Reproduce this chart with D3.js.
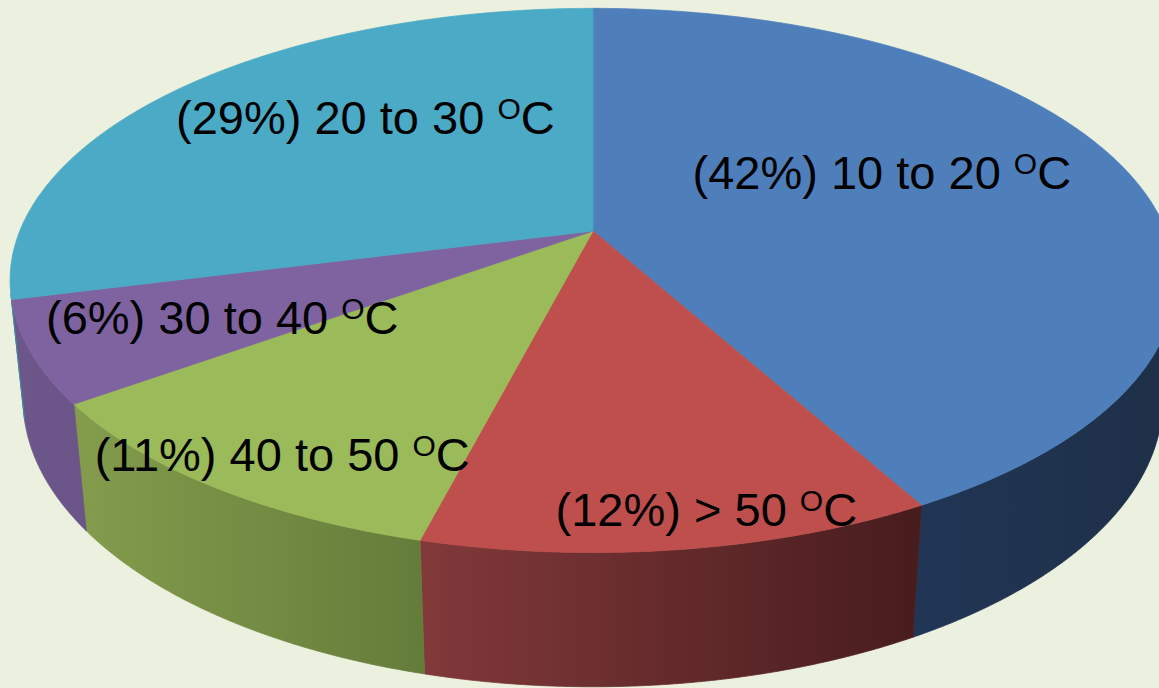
<!DOCTYPE html>
<html>
<head>
<meta charset="utf-8">
<script src="https://cdn.jsdelivr.net/npm/d3@7"></script>
<style>
  html, body { margin: 0; padding: 0; background: #ebf0df; }
  svg { display: block; }
</style>
</head>
<body>
<svg id="chart" width="1159" height="688"></svg>
<script>
// Share of readings by temperature band (percent)
const categories = ["10 to 20", "> 50", "40 to 50", "30 to 40", "20 to 30"];
const shares = [42, 12, 11, 6, 29];

// Slice colours: top face, and the light/dark ends of the rim shading
const topColors = ["#4f7fbb", "#be4f4d", "#9bba59", "#7f63a0", "#4baac5"];
const sideLight = ["#213656", "#82393a", "#849c4c", "#6c568a", "#3d8ba1"];
const sideDark  = ["#1e2f47", "#471c1d", "#647c3a", "#6a5488", "#3d8ba1"];

// Label placement in pie coordinates: [angle offset from slice middle (deg), radius fraction]
const labelPolar = [[-9.6, 0.575], [-3.4, 0.902], [-1.6, 0.872], [-1.6, 0.684], [9.7, 0.638]];

const svg = d3.select("#chart");
svg.append("rect").attr("width", 1159).attr("height", 688).attr("fill", "#ebf0df");

// Perspective camera looking down at a unit-radius disc of thickness T
const cam = { F: 2803, d: 4.89, sinA: 0.459, T: 0.2355, ox: 593, oy: 231 };
cam.cosA = Math.sqrt(1 - cam.sinA * cam.sinA);

// u: right, v: toward viewer, h: height (0 = top face, -T = bottom face)
function proj(u, h, v) {
  const zc = cam.d - h * cam.sinA - v * cam.cosA;
  return [cam.ox + cam.F * u / zc, cam.oy + cam.F * (v * cam.sinA - h * cam.cosA) / zc];
}
// angle measured clockwise from the far point of the disc
function rim(theta, h, r = 1) {
  return proj(r * Math.sin(theta), h, -r * Math.cos(theta));
}
function arcPoints(a0, a1, h) {
  const n = Math.max(2, Math.ceil(Math.abs(a1 - a0) / 0.004));
  return d3.range(n + 1).map(i => rim(a0 + (a1 - a0) * i / n, h));
}

const data = categories.map((c, i) => ({ cat: c, share: shares[i], i }));
const arcs = d3.pie().sort(null).value(d => d.share)(data);
const line = d3.line();
const defs = svg.append("defs");

// Visible part of the outer wall faces the camera
const thA = Math.acos(-1 / (cam.d * cam.cosA));
const thB = 2 * Math.PI - thA;

const sides = svg.append("g");
arcs.forEach(a => {
  const s = Math.max(a.startAngle, thA), e = Math.min(a.endAngle, thB);
  if (e <= s) return;
  const i = a.data.i;
  const topEdge = arcPoints(s, e, 0);
  const botEdge = arcPoints(e, s, -cam.T);
  const xs = topEdge.concat(botEdge).map(p => p[0]);
  const gid = "side" + i;
  const g = defs.append("linearGradient").attr("id", gid)
    .attr("gradientUnits", "userSpaceOnUse")
    .attr("x1", d3.min(xs)).attr("x2", d3.max(xs)).attr("y1", 0).attr("y2", 0);
  g.append("stop").attr("offset", 0).attr("stop-color", sideLight[i]);
  g.append("stop").attr("offset", 1).attr("stop-color", sideDark[i]);
  sides.append("path")
    .attr("d", line(topEdge.concat(botEdge)) + "Z")
    .attr("fill", `url(#${gid})`)
    .attr("stroke", `url(#${gid})`)
    .attr("stroke-width", 0.8)
    .attr("stroke-linejoin", "round");
});

const tops = svg.append("g");
const apex = proj(0, 0, 0);
arcs.forEach(a => {
  const i = a.data.i;
  const pts = [apex].concat(arcPoints(a.startAngle, a.endAngle, 0));
  tops.append("path")
    .attr("d", line(pts) + "Z")
    .attr("fill", topColors[i])
    .attr("stroke", topColors[i])
    .attr("stroke-width", 0.8)
    .attr("stroke-linejoin", "round");
});

// Data labels: "(share%) band °C" with a raised O
const labels = svg.append("g")
  .attr("font-family", "'Liberation Sans', Arial, sans-serif")
  .attr("fill", "#000");
arcs.forEach(a => {
  const i = a.data.i;
  const mid = (a.startAngle + a.endAngle) / 2 + labelPolar[i][0] * Math.PI / 180;
  const [cx, cy] = rim(mid, 0, labelPolar[i][1]);
  const t = labels.append("text")
    .attr("x", cx).attr("y", cy + 17)
    .attr("text-anchor", "middle")
    .attr("font-size", 47)
    .attr("xml:space", "preserve");
  t.append("tspan").text(`(${a.data.share}%) ${a.data.cat} `);
  t.append("tspan").attr("font-size", 30).attr("dy", -15).text("O");
  t.append("tspan").attr("dy", 15).text("C");
});
</script>
</body>
</html>
